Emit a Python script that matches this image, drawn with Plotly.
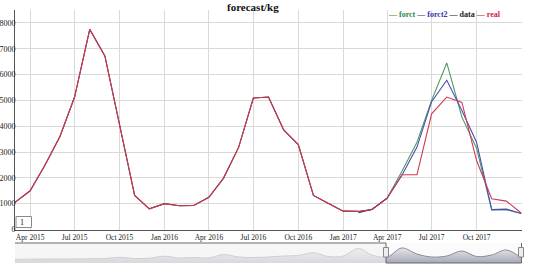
import plotly.graph_objects as go

# ---------------- data ----------------
months = [f"{y}-{m:02d}-01" for y in range(2015, 2019) for m in range(1, 13)]
months = [d for d in months if "2015-03-01" <= d <= "2018-01-01"]  # 35 months

real = [1050, 1500, 2480, 3600, 5130, 7750, 6720, 4100, 1320, 800,
        1000, 920, 930, 1250, 1990, 3190, 5090, 5130, 3860, 3290, 1320, 1020,
        710, 700, 775, 1215, 2120, 2120, 4480, 5130, 4920, 2670, 1190, 1100,
        630]
data = [1050, 1500, 2480, 3600, 5130, 7750, 6720, 4100, 1320, 800,
        1000, 920, 930, 1250, 1990, 3190, 5090, 5130, 3860, 3290, 1320, 1020,
        710, 700, 775, 1215]
forecast_months = months[23:]
forct = [650, 780, 1215, 2250, 3380, 5000, 6450, 4350, 3150, 760, 760, 620]
forct2 = [650, 780, 1215, 2090, 3190, 4950, 5780, 4610, 3380, 770, 790, 620]

# overview strip of the range selector (as drawn)
mini = [3.7, 3.8, 4.0, 4.0, 4.0, 4.2, 4.5, 5.7, 4.5, 4.8,
        6.8, 5.0, 5.5, 5.0, 8.5, 6.0, 5.5, 6.0, 7.0, 7.5, 10.3, 6.5,
        7.0, 14.5, 8.0, 6.0, 15.0, 9.0, 6.0, 7.0, 12.0, 6.5, 8.0, 13.0,
        5.0]

x_ticks = ["2015-04-01", "2015-07-01", "2015-10-01", "2016-01-01",
           "2016-04-01", "2016-07-01", "2016-10-01", "2017-01-01",
           "2017-04-01", "2017-07-01", "2017-10-01"]
y_ticks = [0, 1000, 2000, 3000, 4000, 5000, 6000, 7000, 8000]
title_text = "forecast/kg"
series_names = ["forct", "forct2", "data", "real"]
series_colors = ["#4c9a68", "#4a4fae", "#2a2a2a", "#d03a58"]
legend_text_colors = ["#2f8a3f", "#3434a8", "#222222", "#cc2244"]
roll_period = "1"

# ---------------- layout helpers ----------------
W, H = 540, 276
def px(x):
    return x / W
def py(y):
    return 1 - y / H

FONT = "Liberation Serif"
L, R = 15, 521.5

fig = go.Figure()

for name, xs, ys, col in [
    ("forct", forecast_months, forct, series_colors[0]),
    ("forct2", forecast_months, forct2, series_colors[1]),
    ("data", months[:len(data)], data, series_colors[2]),
    ("real", months, real, series_colors[3]),
]:
    fig.add_trace(go.Scatter(x=xs, y=ys, mode="lines", name=name,
                             line=dict(color=col, width=1.1),
                             hoverinfo="skip"))

fig.add_trace(go.Scatter(
    x=months, y=mini, mode="lines", xaxis="x2", yaxis="y2",
    line=dict(color="#8a8c98", width=1, shape="spline"),
    fill="tozeroy",
    fillgradient=dict(type="vertical",
                      colorscale=[[0, "#a6a8b6"], [1, "#e6e7ec"]]),
    hoverinfo="skip"))

fig.update_layout(
    width=W, height=H,
    margin=dict(l=0, r=0, t=0, b=0),
    paper_bgcolor="white", plot_bgcolor="white",
    showlegend=False,
    xaxis=dict(domain=[px(L), px(R)], type="date",
               range=[months[0], months[-1]],
               tickvals=x_ticks, tickformat="%b %Y",
               showgrid=True, gridcolor="#d9d9d9", gridwidth=1,
               showline=True, linecolor="#555", linewidth=1,
               ticks="", ticklen=0, zeroline=False, automargin=False,
               tickfont=dict(family=FONT, size=7.5, color="#222"),
               anchor="y"),
    yaxis=dict(domain=[py(229.5), py(10)], range=[0, 8500],
               tickvals=y_ticks,
               showgrid=True, gridcolor="#d9d9d9", gridwidth=1,
               showline=True, linecolor="#555", linewidth=1,
               ticks="", ticklen=0, zeroline=False, ticklabelstandoff=-3,
               automargin=False,
               tickfont=dict(family=FONT, size=8, color="#222"),
               anchor="x"),
    xaxis2=dict(domain=[px(L), px(R)], type="date",
                range=[months[0], months[-1]], visible=False,
                anchor="y2"),
    yaxis2=dict(domain=[py(263), py(243)], range=[0, 20], visible=False,
                anchor="x2"),
)

sel_x = px(386)
shapes = [
    dict(type="rect", xref="paper", yref="paper", x0=px(L), x1=px(R),
         y0=py(263), y1=py(243), fillcolor="#fbfbfb",
         line=dict(width=0), layer="below"),
    dict(type="rect", xref="paper", yref="paper", x0=px(L), x1=sel_x,
         y0=py(263), y1=py(243), fillcolor="rgba(242,242,242,0.65)",
         line=dict(width=0)),
    dict(type="path", xref="paper", yref="paper",
         path=(f"M {px(L)},{py(243)} L {sel_x},{py(243)} L {sel_x},{py(263)} "
               f"L {px(R)},{py(263)} L {px(R)},{py(243)}"),
         line=dict(color="#6a6a6a", width=1)),
    dict(type="rect", xref="paper", yref="paper", x0=px(383.5), x1=px(388.5),
         y0=py(257), y1=py(247.5), fillcolor="#ededed",
         line=dict(color="#888", width=1)),
    dict(type="rect", xref="paper", yref="paper", x0=px(518.5), x1=px(523.5),
         y0=py(257), y1=py(247.5), fillcolor="#ededed",
         line=dict(color="#888", width=1)),
    dict(type="rect", xref="paper", yref="paper", x0=px(16), x1=px(31.5),
         y0=py(227.5), y1=py(216.5), fillcolor="white",
         line=dict(color="#8a8a8a", width=1)),
]
fig.update_layout(shapes=shapes)

legend_html = " ".join(
    f'<span style="color:{c}">— {n}</span>'
    for n, c in zip(series_names, legend_text_colors))

fig.update_layout(annotations=[
    dict(text=f"<b>{title_text}</b>", xref="paper", yref="paper",
         x=px(253), y=py(7), xanchor="center", yanchor="middle",
         showarrow=False, font=dict(family=FONT, size=11, color="#111")),
    dict(text=f"<b>{legend_html}</b>", xref="paper", yref="paper",
         x=px(386), y=py(14), xanchor="left", yanchor="middle",
         showarrow=False, font=dict(family=FONT, size=8)),
    dict(text=roll_period, xref="paper", yref="paper",
         x=px(18), y=py(222), xanchor="left", yanchor="middle",
         showarrow=False, font=dict(family=FONT, size=8, color="#111")),
])

fig.write_html("out.html")
